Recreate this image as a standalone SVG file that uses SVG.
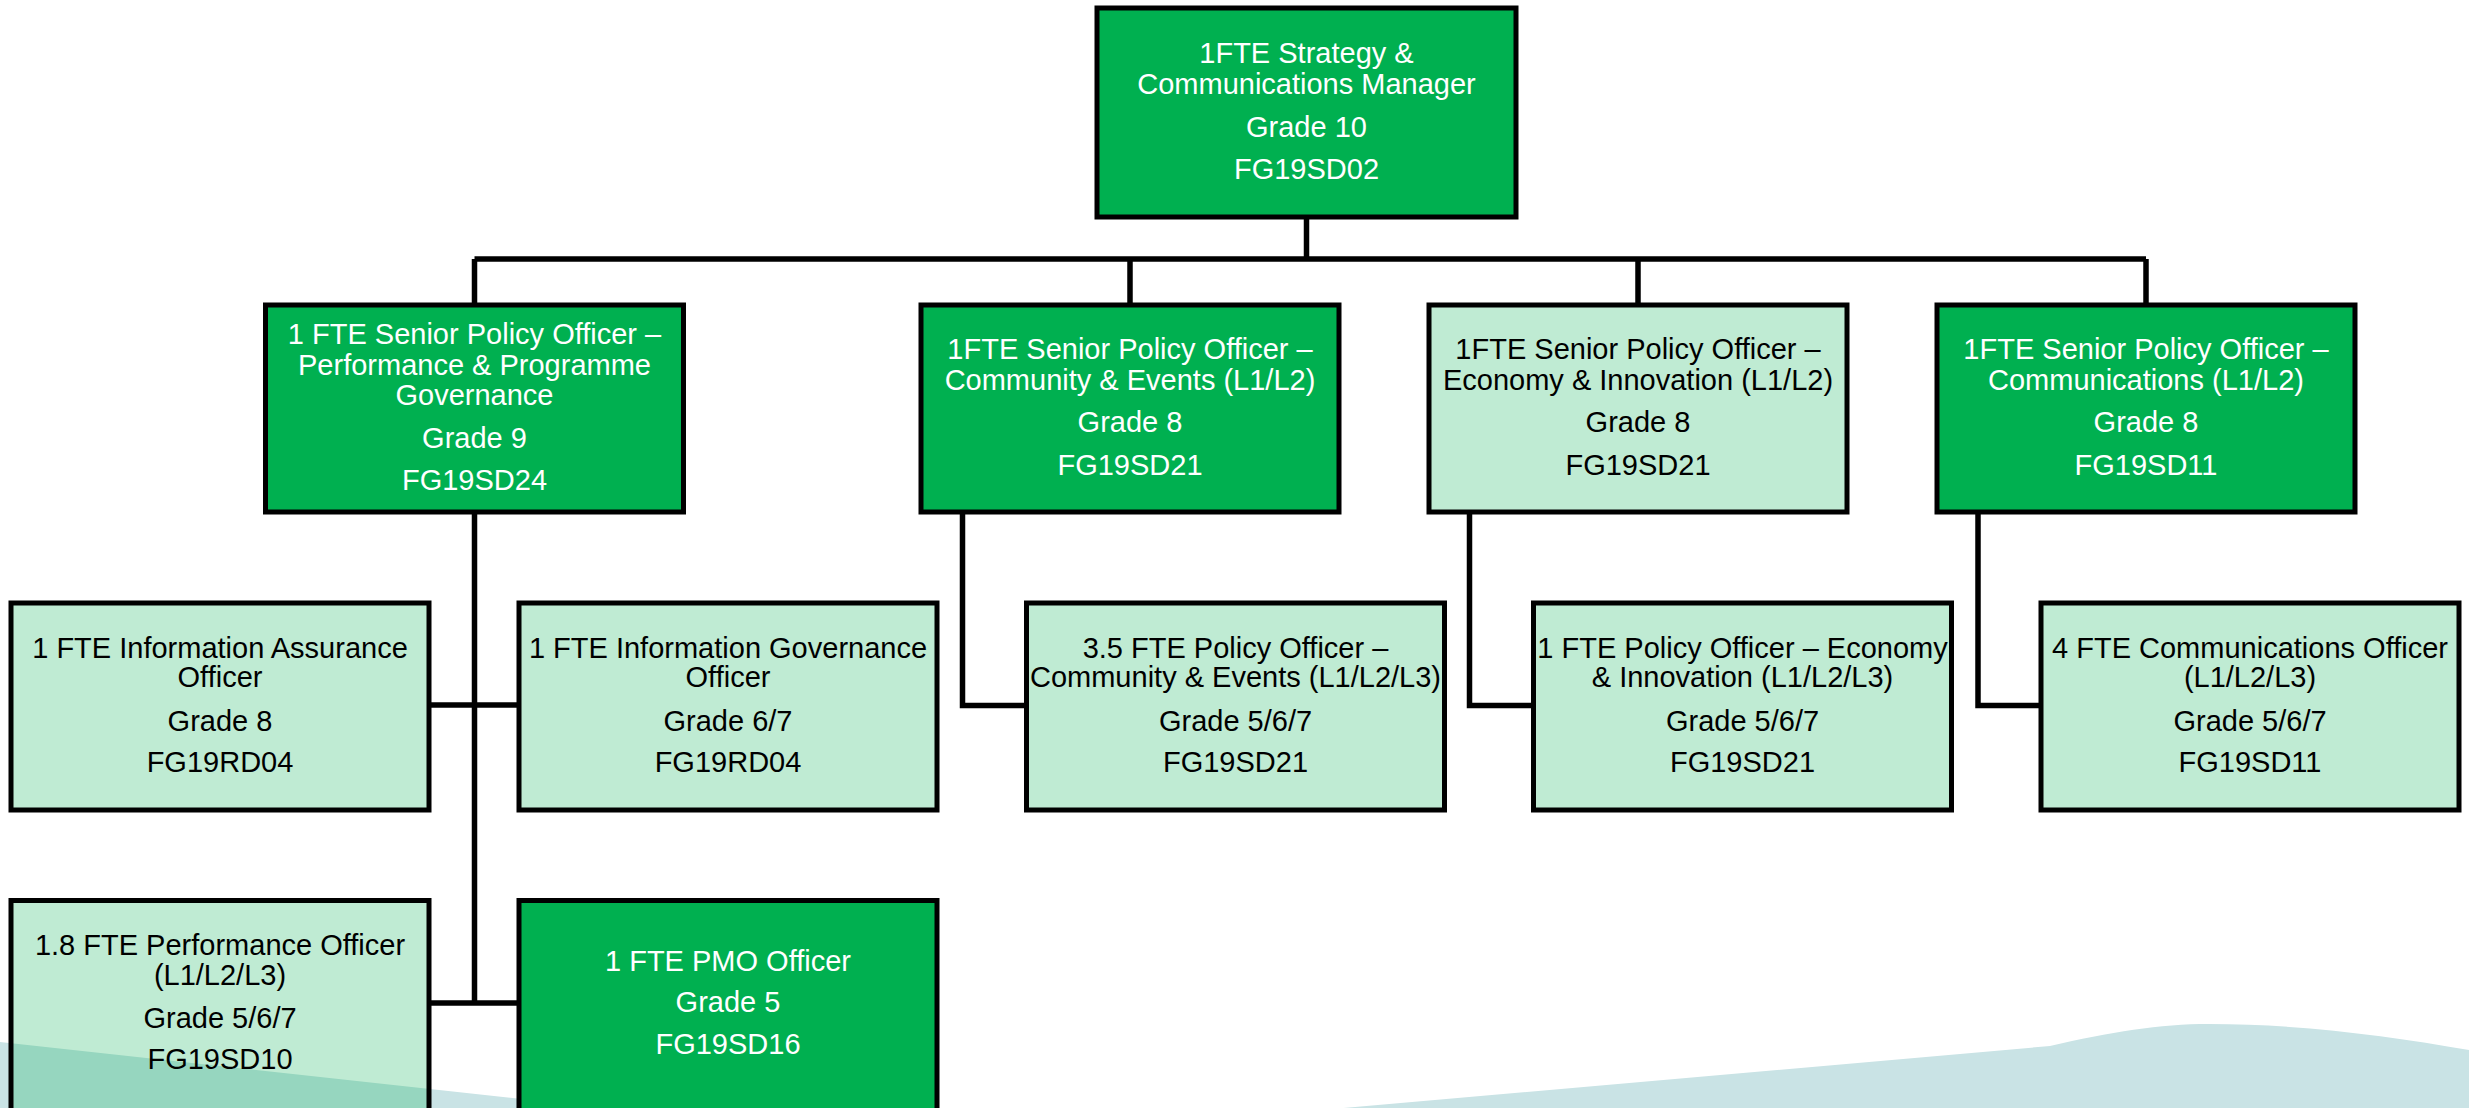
<svg xmlns="http://www.w3.org/2000/svg" width="2469" height="1108" viewBox="0 0 2469 1108">
<style>
  .box { stroke: #000; stroke-width: 5; }
  .dark { fill: #00B050; }
  .light { fill: #00B050; fill-opacity: 0.25; }
  .t { font-family: "Liberation Sans", Arial, sans-serif; font-size: 29px; text-anchor: middle; }
  .w { fill: #FFFFFF; }
  .k { fill: #000000; }
  .conn { fill: none; stroke: #000; stroke-width: 5.5; }
</style>
<rect x="0" y="0" width="2469" height="1108" fill="#FFFFFF"/>
<path id="wave" d="M0,1042 L760,1125 L1150,1125 L2050,1046 C2110,1032 2160,1024 2209,1024 C2300,1024 2390,1036 2469,1050 L2469,1108 L0,1108 Z" fill="#C9E3E5"/>
<g id="connectors">
  <path class="conn" d="M1306.5,219 V259"/>
  <path class="conn" d="M474.5,259 H2146"/>
  <path class="conn" d="M474.5,259 V304 M1130,259 V304 M1638,259 V304 M2146,259 V304"/>
  <path class="conn" d="M474.5,514 V1003"/>
  <path class="conn" d="M431,705 H517"/>
  <path class="conn" d="M431,1003 H517"/>
  <path class="conn" d="M962.5,514 V705.5 H1026"/>
  <path class="conn" d="M1469.5,514 V705.5 H1532"/>
  <path class="conn" d="M1978,514 V705.5 H2040"/>
</g>
<g id="n-manager">
  <rect class="box dark" x="1097" y="8" width="419" height="209"/>
  <text class="t w" x="1306.5" y="63">1FTE Strategy &amp;</text>
  <text class="t w" x="1306.5" y="94">Communications Manager</text>
  <text class="t w" x="1306.5" y="137">Grade 10</text>
  <text class="t w" x="1306.5" y="179">FG19SD02</text>
</g>
<g id="n-spo-performance">
  <rect class="box dark" x="265.5" y="305" width="418" height="207"/>
  <text class="t w" x="474.5" y="344">1 FTE Senior Policy Officer –</text>
  <text class="t w" x="474.5" y="375">Performance &amp; Programme</text>
  <text class="t w" x="474.5" y="405">Governance</text>
  <text class="t w" x="474.5" y="448">Grade 9</text>
  <text class="t w" x="474.5" y="490">FG19SD24</text>
</g>
<g id="n-spo-community">
  <rect class="box dark" x="921" y="305" width="418" height="207"/>
  <text class="t w" x="1130" y="359">1FTE Senior Policy Officer –</text>
  <text class="t w" x="1130" y="390">Community &amp; Events (L1/L2)</text>
  <text class="t w" x="1130" y="432">Grade 8</text>
  <text class="t w" x="1130" y="475">FG19SD21</text>
</g>
<g id="n-spo-economy">
  <rect class="box light" x="1429" y="305" width="418" height="207"/>
  <text class="t k" x="1638" y="359">1FTE Senior Policy Officer –</text>
  <text class="t k" x="1638" y="390">Economy &amp; Innovation (L1/L2)</text>
  <text class="t k" x="1638" y="432">Grade 8</text>
  <text class="t k" x="1638" y="475">FG19SD21</text>
</g>
<g id="n-spo-communications">
  <rect class="box dark" x="1937" y="305" width="418" height="207"/>
  <text class="t w" x="2146" y="359">1FTE Senior Policy Officer –</text>
  <text class="t w" x="2146" y="390">Communications (L1/L2)</text>
  <text class="t w" x="2146" y="432">Grade 8</text>
  <text class="t w" x="2146" y="475">FG19SD11</text>
</g>
<g id="n-info-assurance">
  <rect class="box light" x="11" y="603" width="418" height="207"/>
  <text class="t k" x="220" y="657.5">1 FTE Information Assurance</text>
  <text class="t k" x="220" y="686.5">Officer</text>
  <text class="t k" x="220" y="730.5">Grade 8</text>
  <text class="t k" x="220" y="772">FG19RD04</text>
</g>
<g id="n-info-governance">
  <rect class="box light" x="519" y="603" width="418" height="207"/>
  <text class="t k" x="728" y="657.5">1 FTE Information Governance</text>
  <text class="t k" x="728" y="686.5">Officer</text>
  <text class="t k" x="728" y="730.5">Grade 6/7</text>
  <text class="t k" x="728" y="772">FG19RD04</text>
</g>
<g id="n-po-community">
  <rect class="box light" x="1026.5" y="603" width="418" height="207"/>
  <text class="t k" x="1235.5" y="657.5">3.5 FTE Policy Officer –</text>
  <text class="t k" x="1235.5" y="686.5">Community &amp; Events (L1/L2/L3)</text>
  <text class="t k" x="1235.5" y="730.5">Grade 5/6/7</text>
  <text class="t k" x="1235.5" y="772">FG19SD21</text>
</g>
<g id="n-po-economy">
  <rect class="box light" x="1533.5" y="603" width="418" height="207"/>
  <text class="t k" x="1742.5" y="657.5">1 FTE Policy Officer – Economy</text>
  <text class="t k" x="1742.5" y="686.5">&amp; Innovation (L1/L2/L3)</text>
  <text class="t k" x="1742.5" y="730.5">Grade 5/6/7</text>
  <text class="t k" x="1742.5" y="772">FG19SD21</text>
</g>
<g id="n-comms-officer">
  <rect class="box light" x="2041" y="603" width="418" height="207"/>
  <text class="t k" x="2250" y="657.5">4 FTE Communications Officer</text>
  <text class="t k" x="2250" y="686.5">(L1/L2/L3)</text>
  <text class="t k" x="2250" y="730.5">Grade 5/6/7</text>
  <text class="t k" x="2250" y="772">FG19SD11</text>
</g>
<g id="n-performance-officer">
  <rect class="box light" x="11" y="900.5" width="418" height="260"/>
  <text class="t k" x="220" y="955">1.8 FTE Performance Officer</text>
  <text class="t k" x="220" y="985">(L1/L2/L3)</text>
  <text class="t k" x="220" y="1028">Grade 5/6/7</text>
  <text class="t k" x="220" y="1069">FG19SD10</text>
</g>
<g id="n-pmo-officer">
  <rect class="box dark" x="519" y="900.5" width="418" height="260"/>
  <text class="t w" x="728" y="971">1 FTE PMO Officer</text>
  <text class="t w" x="728" y="1012">Grade 5</text>
  <text class="t w" x="728" y="1054">FG19SD16</text>
</g>
</svg>
